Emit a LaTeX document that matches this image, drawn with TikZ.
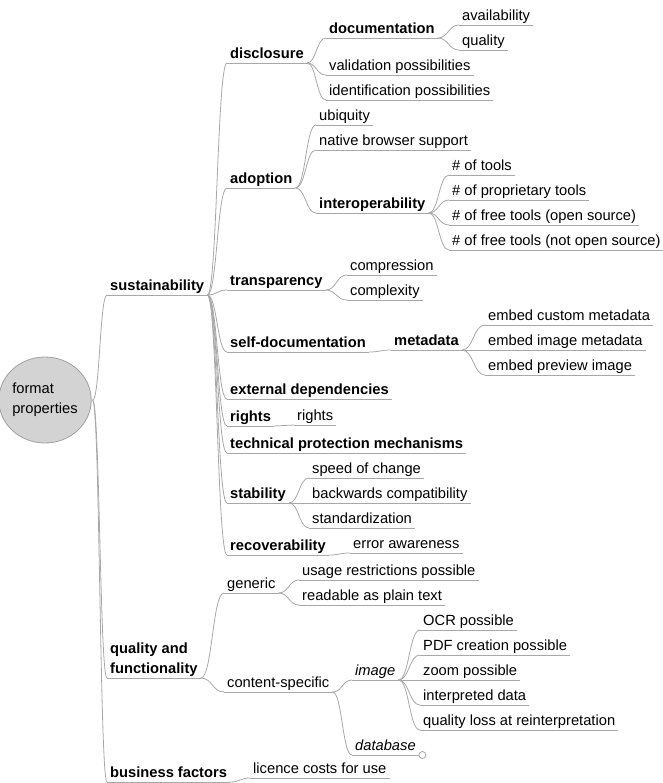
\documentclass[tikz,border=0pt]{standalone}
\usepackage{fontspec}
\setmainfont{Liberation Sans}
\usetikzlibrary{shapes.geometric,calc}
\definecolor{edgegray}{HTML}{A8A8A8}
\definecolor{rootfill}{HTML}{D3D3D3}
\definecolor{rootline}{HTML}{A0A0A0}
\begin{document}
\begin{tikzpicture}[x=1pt,y=-1pt,
  every node/.style={font=\fontsize{14.7}{20}\selectfont},
  mm/.style={anchor=south west, inner xsep=3pt, inner ysep=1.5pt, text depth=2.5pt, text height=10.5pt, align=left},
  bnode/.style={mm, font=\fontsize{14.7}{20}\selectfont\bfseries},
  inode/.style={mm, font=\fontsize{14.7}{20}\selectfont\itshape},
  edge/.style={draw=edgegray, line width=0.8pt},
  uline/.style={draw=edgegray, line width=0.8pt},
  rootnode/.style={ellipse, draw=rootline, fill=rootfill, line width=0.8pt, minimum width=76pt, minimum height=86pt, inner sep=0pt, align=left}
]
\useasboundingbox (0,0) rectangle (662,783);

% root
\node[rootnode] (root) at (45,400) {format\\properties};

% level 1
\node[bnode] (sust) at (107,295) {sustainability};
\node[bnode] (qual) at (107,678) {quality and\\functionality};
\node[bnode] (bus) at (107,782) {business factors};

% sustainability children
\node[bnode] (discl) at (227,63) {disclosure};
\node[bnode] (adopt) at (227,188) {adoption};
\node[bnode] (transp) at (227,290) {transparency};
\node[bnode] (selfdoc) at (227,352) {self-documentation};
\node[bnode] (extdep) at (227,399) {external dependencies};
\node[bnode] (rightsB) at (227,426) {rights};
\node[bnode] (tech) at (227,453) {technical protection mechanisms};
\node[bnode] (stab) at (227,503) {stability};
\node[bnode] (recov) at (227,555) {recoverability};

% disclosure
\node[bnode] (doc) at (326,38) {documentation};
\node[mm] (valid) at (326,75) {validation possibilities};
\node[mm] (ident) at (326,100) {identification possibilities};
\node[mm] (avail) at (459,25) {availability};
\node[mm] (qualty) at (459,50) {quality};

% adoption
\node[mm] (ubiq) at (316,125) {ubiquity};
\node[mm] (native) at (316,150) {native browser support};
\node[bnode] (interop) at (316,213) {interoperability};
\node[mm] (tools) at (449,175) {\# of tools};
\node[mm] (prop) at (449,200) {\# of proprietary tools};
\node[mm] (freeos) at (449,225) {\# of free tools (open source)};
\node[mm] (freenos) at (449,250) {\# of free tools (not open source)};

% transparency
\node[mm] (compr) at (347,275) {compression};
\node[mm] (complex) at (347,300) {complexity};

% self-documentation
\node[bnode] (meta) at (391,350) {metadata};
\node[mm] (emb1) at (485,325) {embed custom metadata};
\node[mm] (emb2) at (485,350) {embed image metadata};
\node[mm] (emb3) at (485,375) {embed preview image};

% rights
\node[mm] (rightsL) at (294,425) {rights};

% stability
\node[mm] (speed) at (309,478) {speed of change};
\node[mm] (backw) at (309,503) {backwards compatibility};
\node[mm] (stdz) at (309,528) {standardization};

% recoverability
\node[mm] (erraw) at (350,553) {error awareness};

% quality and functionality
\node[mm] (generic) at (224,593) {generic};
\node[mm] (content) at (224,692) {content-specific};
\node[mm] (usage) at (299,580) {usage restrictions possible};
\node[mm] (readable) at (299,605) {readable as plain text};
\node[inode] (image) at (352,680) {image};
\node[inode] (database) at (352,755) {database};
\node[mm] (ocr) at (420,630) {OCR possible};
\node[mm] (pdf) at (420,655) {PDF creation possible};
\node[mm] (zoomp) at (420,680) {zoom possible};
\node[mm] (interp) at (420,705) {interpreted data};
\node[mm] (qloss) at (420,730) {quality loss at reinterpretation};

% business factors
\node[mm] (licence) at (250,778) {licence costs for use};

% underlines
\foreach \n in {sust,qual,bus,discl,adopt,transp,selfdoc,extdep,rightsB,tech,stab,recov,
  doc,valid,ident,avail,qualty,ubiq,native,interop,tools,prop,freeos,freenos,compr,complex,
  meta,emb1,emb2,emb3,rightsL,speed,backw,stdz,erraw,generic,content,usage,readable,
  image,database,ocr,pdf,zoomp,interp,qloss,licence}
  {\draw[uline] (\n.south west) -- (\n.south east);}

% root edges
\foreach \c in {sust,qual,bus}{
  \coordinate (P) at ([xshift=1pt]root.east);
  \coordinate (C) at (\c.south west);
  \coordinate (M) at ($(P)!0.5!(C)$);
  \draw[edge] (P) .. controls (P -| M) and (C -| M) .. (C);
}

% other edges
\foreach \p/\c in {sust/discl,sust/adopt,sust/transp,sust/selfdoc,sust/extdep,sust/rightsB,
  sust/tech,sust/stab,sust/recov,
  discl/doc,discl/valid,discl/ident,doc/avail,doc/qualty,
  adopt/ubiq,adopt/native,adopt/interop,
  interop/tools,interop/prop,interop/freeos,interop/freenos,
  transp/compr,transp/complex,selfdoc/meta,meta/emb1,meta/emb2,meta/emb3,
  rightsB/rightsL,stab/speed,stab/backw,stab/stdz,recov/erraw,
  qual/generic,qual/content,generic/usage,generic/readable,
  content/image,content/database,
  image/ocr,image/pdf,image/zoomp,image/interp,image/qloss,
  bus/licence}{
  \coordinate (P) at (\p.south east);
  \coordinate (C) at (\c.south west);
  \coordinate (M) at ($(P)!0.5!(C)$);
  \draw[edge] (P) .. controls (P -| M) and (C -| M) .. (C);
}

% folded indicator
\node[circle, draw=edgegray, fill=white, line width=0.8pt, minimum size=7pt, inner sep=0pt] (fold) at ([xshift=3.5pt]database.south east) {};
\end{tikzpicture}
\end{document}
